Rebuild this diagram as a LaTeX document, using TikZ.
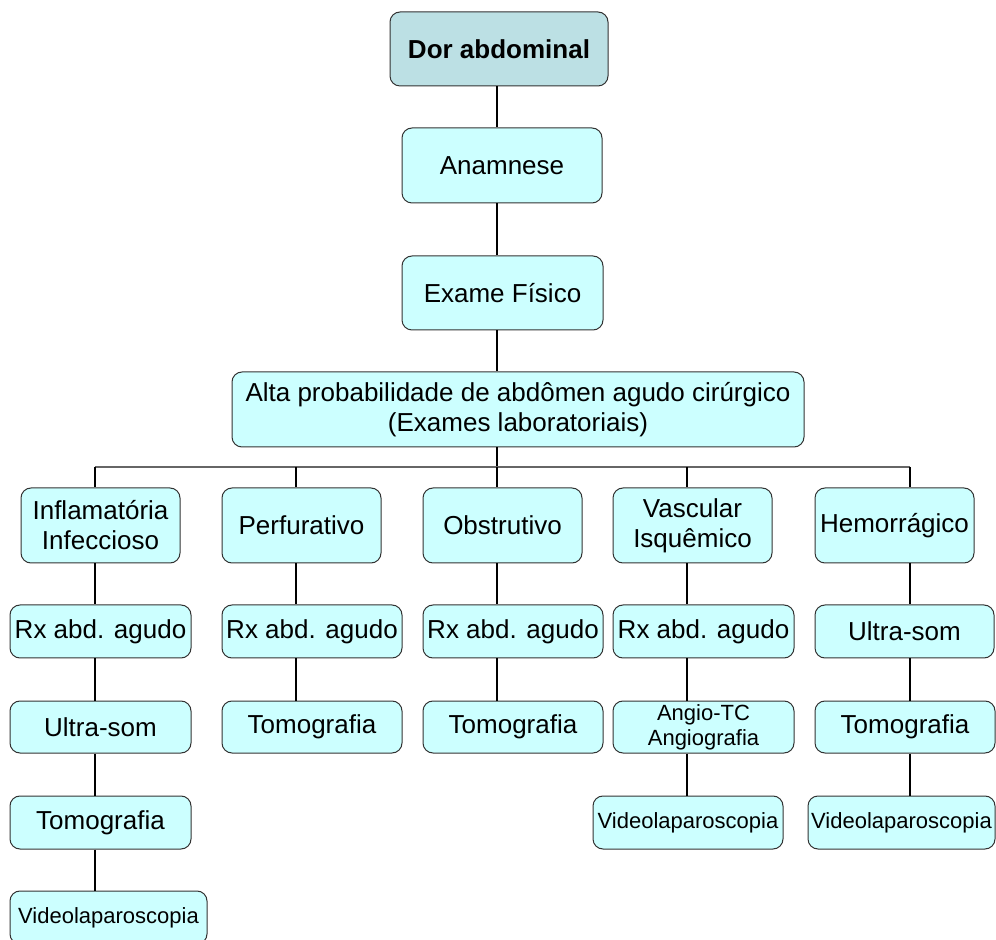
\documentclass[tikz,border=0pt]{standalone}
\usepackage{fontspec}
\setmainfont{Liberation Sans}
\definecolor{caixa}{RGB}{204,255,255}
\definecolor{caixatopo}{RGB}{188,224,228}
\begin{document}
\begin{tikzpicture}[
    x=0.5pt,
    y=-0.5pt,
    box/.style={
        draw=black!80,
        fill=caixa,
        line width=0.5pt,
        rounded corners=5pt,
        align=center,
        inner sep=0pt,
        font=\fontsize{13}{15}\selectfont
    },
    small/.style={
        font=\fontsize{11}{12.5}\selectfont
    },
    wh/.style 2 args={
        minimum width=#1*0.5pt,
        minimum height=#2*0.5pt
    },
    link/.style={
        line width=0.6pt,
        draw=black
    },
    bus/.style={
        line width=0.8pt,
        draw=black!60
    }
]
    \clip (0,0) rectangle (996,940);

    % Tronco
    \node[box, wh={218}{74}, fill=caixatopo, font=\fontsize{13}{15}\selectfont\bfseries]
        (dor) at (499,49) {Dor abdominal};
    \node[box, wh={200}{75}] (anam) at (502,165.5) {Anamnese};
    \node[box, wh={201}{74}] (exame) at (502.5,293) {Exame Físico};
    \node[box, wh={572}{75}] (alta) at (518,409.5)
        {Alta probabilidade de abdômen agudo cirúrgico\\(Exames laboratoriais)};

    % Colunas
    \coordinate (spine) at (497,0);
    \foreach \k/\x in {1/95,2/296,3/497,4/687,5/910}{
        \coordinate (k\k) at (\x,0);
    }

    % Categorias
    \foreach \i/\cx/\txt in {
        1/100.5/{Inflamatória\\Infeccioso},
        2/301.5/{Perfurativo},
        3/502.5/{Obstrutivo},
        4/692.5/{Vascular\\Isquêmico},
        5/894.5/{Hemorrágico}%
    }{
        \node[box, wh={159}{75}] (cat\i) at (\cx,525.5) {\txt};
    }

    % Exames por coluna
    \node[box, wh={181}{53}] (a2) at (100.5,631.5) {Rx abd. agudo};
    \node[box, wh={181}{52}] (a3) at (100.5,727) {Ultra-som};
    \node[box, wh={181}{53}] (a4) at (100.5,822.5) {Tomografia};
    \node[box, small, wh={197}{53}] (a5) at (108.5,917.5) {Videolaparoscopia};

    \node[box, wh={180}{53}] (b2) at (312,631.5) {Rx abd. agudo};
    \node[box, wh={180}{52}] (b3) at (312,727) {Tomografia};

    \node[box, wh={180}{53}] (c2) at (513,631.5) {Rx abd. agudo};
    \node[box, wh={180}{52}] (c3) at (513,727) {Tomografia};

    \node[box, wh={181}{53}] (d2) at (703.5,631.5) {Rx abd. agudo};
    \node[box, small, wh={181}{52}] (d3) at (703.5,727) {Angio-TC\\Angiografia};
    \node[box, small, wh={190}{53}] (d4) at (688,822.5) {Videolaparoscopia};

    \node[box, wh={179}{53}] (e2) at (904.5,631.5) {Ultra-som};
    \node[box, wh={180}{52}] (e3) at (905,727) {Tomografia};
    \node[box, small, wh={187}{53}] (e4) at (901.5,822.5) {Videolaparoscopia};

    % Ligações
    \foreach \a/\b in {dor/anam, anam/exame, exame/alta}{
        \draw[link] (\a.south -| spine) -- (\b.north -| spine);
    }
    \coordinate (busL) at (95,467);
    \coordinate (busR) at (910,467);
    \draw[link] (alta.south -| spine) -- (busL -| spine);
    \draw[bus] (busL) -- (busR);
    \foreach \k in {1,2,3,4,5}{
        \draw[link] (busL -| k\k) -- (cat\k.north -| k\k);
    }
    \foreach \a/\b/\k in {
        cat1/a2/k1, a2/a3/k1, a3/a4/k1, a4/a5/k1,
        cat2/b2/k2, b2/b3/k2,
        cat3/c2/k3, c2/c3/k3,
        cat4/d2/k4, d2/d3/k4, d3/d4/k4,
        cat5/e2/k5, e2/e3/k5, e3/e4/k5%
    }{
        \draw[link] (\a.south -| \k) -- (\b.north -| \k);
    }

\end{tikzpicture}
\end{document}
